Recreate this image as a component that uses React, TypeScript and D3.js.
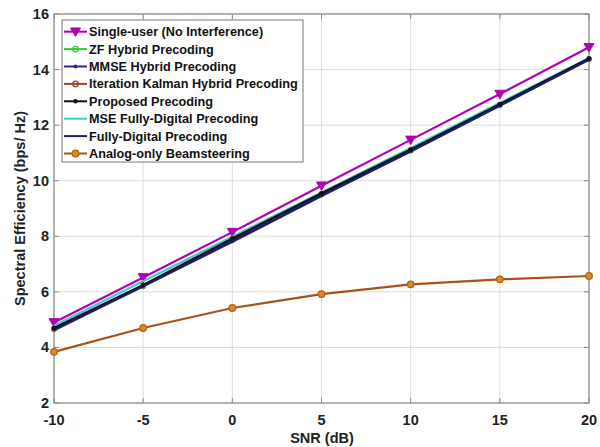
import React from "react";
import * as d3 from "d3";

const snr = [-10, -5, 0, 5, 10, 15, 20];
const singleUser = [4.9, 6.52, 8.15, 9.82, 11.47, 13.12, 14.8];
const zfHybrid = [4.65, 6.2, 7.85, 9.5, 11.08, 12.72, 14.37];
const mmseHybrid = [4.66, 6.22, 7.86, 9.5, 11.1, 12.73, 14.38];
const kalmanHybrid = [4.68, 6.23, 7.88, 9.52, 11.1, 12.74, 14.39];
const proposed = [4.7, 6.25, 7.92, 9.55, 11.12, 12.75, 14.4];
const mseFullyDigital = [4.78, 6.38, 7.98, 9.58, 11.18, 12.8, 14.42];
const fullyDigital = [4.62, 6.2, 7.8, 9.45, 11.05, 12.7, 14.35];
const analogOnly = [3.84, 4.7, 5.42, 5.92, 6.27, 6.45, 6.57];

const xTicks = [-10, -5, 0, 5, 10, 15, 20];
const yTicks = [2, 4, 6, 8, 10, 12, 14, 16];

type Marker = "tri" | "circle" | "dot" | "none";
interface Series {
  name: string;
  values: number[];
  color: string;
  markerColor: string;
  marker: Marker;
  fill: string;
  r: number;
}

const series: Series[] = [
  { name: "Single-user (No Interference)", values: singleUser, color: "#b400b4", markerColor: "#b400b4", marker: "tri", fill: "#b400b4", r: 5 },
  { name: "ZF Hybrid Precoding", values: zfHybrid, color: "#33cc33", markerColor: "#33cc33", marker: "circle", fill: "none", r: 2.2 },
  { name: "MMSE Hybrid Precoding", values: mmseHybrid, color: "#2a2a80", markerColor: "#2a2a80", marker: "dot", fill: "#2a2a80", r: 2 },
  { name: "Iteration Kalman Hybrid Precoding", values: kalmanHybrid, color: "#a04030", markerColor: "#a04030", marker: "circle", fill: "none", r: 2.2 },
  { name: "Proposed Precoding", values: proposed, color: "#111111", markerColor: "#111111", marker: "dot", fill: "#111111", r: 2.3 },
  { name: "MSE Fully-Digital Precoding", values: mseFullyDigital, color: "#33d0d0", markerColor: "#33d0d0", marker: "none", fill: "none", r: 0 },
  { name: "Fully-Digital Precoding", values: fullyDigital, color: "#1c1c6a", markerColor: "#1c1c6a", marker: "none", fill: "none", r: 0 },
  { name: "Analog-only Beamsteering", values: analogOnly, color: "#a8521a", markerColor: "#b8600f", marker: "circle", fill: "#d88a2a", r: 3.3 },
];

// draw order of lines: back to front; proposed dots drawn last
const drawOrder = [7, 0, 5, 1, 3, 2, 4, 6];

const M = { left: 54, right: 589, top: 14, bottom: 403 };

function MarkerShape({ s, x, y, legend }: { s: Series; x: number; y: number; legend?: boolean }) {
  const r = legend && s.marker === "circle" ? Math.max(s.r, 2.8) : s.r;
  if (s.marker === "tri") {
    return (
      <path
        d={`M${x - r},${y - r * 0.75}L${x + r},${y - r * 0.75}L${x},${y + r * 0.95}Z`}
        fill={s.fill}
        stroke={s.markerColor}
        strokeWidth={1}
      />
    );
  }
  if (s.marker === "circle") {
    return <circle cx={x} cy={y} r={r} fill={s.fill} stroke={s.markerColor} strokeWidth={1.3} />;
  }
  if (s.marker === "dot") {
    return <circle cx={x} cy={y} r={r} fill={s.fill} stroke="none" />;
  }
  return null;
}

export default function App() {
  const x = d3.scaleLinear().domain([-10, 20]).range([M.left, M.right]);
  const y = d3.scaleLinear().domain([2, 16]).range([M.bottom, M.top]);
  const line = d3
    .line<number>()
    .x((_, i) => x(snr[i]))
    .y((d) => y(d));

  const font = "'Liberation Sans', Arial, sans-serif";
  const legend = { x: 62, y: 20, w: 241, h: 142, row: 17.4 };
  const prop = series[4];

  return (
    <svg
      width={600}
      height={447}
      style={{ position: "absolute", left: 0, top: 0, background: "#fff" }}
      fontFamily={font}
    >
      <rect x={0} y={0} width={600} height={447} fill="#fff" />
      {/* grid */}
      {xTicks.map((t) => (
        <line key={"gx" + t} x1={x(t)} x2={x(t)} y1={M.top} y2={M.bottom} stroke="#dcdcdc" strokeWidth={1} />
      ))}
      {yTicks.map((t) => (
        <line key={"gy" + t} x1={M.left} x2={M.right} y1={y(t)} y2={y(t)} stroke="#dcdcdc" strokeWidth={1} />
      ))}
      {/* box */}
      <rect x={M.left} y={M.top} width={M.right - M.left} height={M.bottom - M.top} fill="none" stroke="#8a8a8a" strokeWidth={1.2} />
      {/* ticks */}
      {xTicks.map((t) => (
        <g key={"tx" + t}>
          <line x1={x(t)} x2={x(t)} y1={M.bottom} y2={M.bottom - 5} stroke="#8a8a8a" />
          <line x1={x(t)} x2={x(t)} y1={M.top} y2={M.top + 5} stroke="#8a8a8a" />
          <text x={x(t)} y={425} textAnchor="middle" fontSize={14.5} fontWeight="bold" fill="#222">
            {t}
          </text>
        </g>
      ))}
      {yTicks.map((t) => (
        <g key={"ty" + t}>
          <line x1={M.left} x2={M.left + 5} y1={y(t)} y2={y(t)} stroke="#8a8a8a" />
          <line x1={M.right} x2={M.right - 5} y1={y(t)} y2={y(t)} stroke="#8a8a8a" />
          <text x={49} y={y(t) + 5} textAnchor="end" fontSize={14.5} fontWeight="bold" fill="#222">
            {t}
          </text>
        </g>
      ))}
      {/* axis labels */}
      <text x={322} y={443} textAnchor="middle" fontSize={14.5} fontWeight="bold" fill="#222">
        SNR (dB)
      </text>
      <text
        transform={`translate(25,${(M.top + M.bottom) / 2}) rotate(-90)`}
        textAnchor="middle"
        fontSize={14.5}
        fontWeight="bold"
        fill="#222"
      >
        Spectral Efficiency (bps/ Hz)
      </text>
      {/* series */}
      {drawOrder.map((idx) => {
        const s = series[idx];
        return (
          <g key={s.name}>
            <path d={line(s.values) || ""} fill="none" stroke={s.color} strokeWidth={2.2} />
            {idx !== 4 &&
              s.values.map((v, i) => <MarkerShape key={i} s={s} x={x(snr[i])} y={y(v)} />)}
          </g>
        );
      })}
      <g>
        {prop.values.map((v, i) => (
          <MarkerShape key={i} s={prop} x={x(snr[i])} y={y(v)} />
        ))}
      </g>
      {/* legend */}
      <rect x={legend.x} y={legend.y} width={legend.w} height={legend.h} fill="#fff" stroke="#777" strokeWidth={1} />
      {series.map((s, i) => {
        const cy = 31.7 + i * legend.row;
        return (
          <g key={"lg" + s.name}>
            <line x1={64} x2={87} y1={cy} y2={cy} stroke={s.color} strokeWidth={2} />
            <MarkerShape s={s} x={75.5} y={cy} legend />
            <text x={89} y={cy + 4.5} fontSize={12.7} fontWeight="bold" fill="#111">
              {s.name}
            </text>
          </g>
        );
      })}
    </svg>
  );
}
